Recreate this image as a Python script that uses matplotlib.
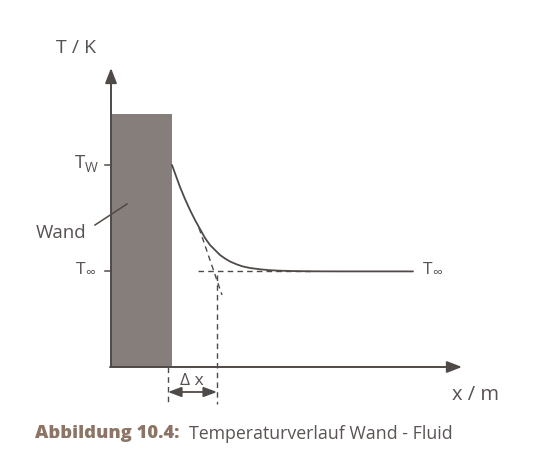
import matplotlib
matplotlib.use("Agg")
import matplotlib.pyplot as plt
from matplotlib.patches import Rectangle

# Diagram coordinates (x to the right, T upward, drawn in figure-sized units)
axis_origin = (111, 367)
y_axis_top = 68
x_axis_end = 462
wall_left, wall_right, wall_top = 111, 172, 114
T_W = 165
T_inf = 271
delta_x_end = 217

# Temperature profile
curve_x = [172, 176, 180, 185, 190, 195, 200, 205, 210, 215, 220, 225, 230, 237,
           243, 250, 260, 270, 280, 295, 310, 340, 380, 413]
curve_T = [165, 176, 187, 199, 210, 220, 229, 238, 245, 250, 255, 258.5, 261.5, 264.5,
           266.5, 268, 269.3, 270.2, 270.7, 271.1, 271.3, 271.4, 271.4, 271.4]

tangent_x = [199, 222]
tangent_T = [228, 295]

line_c = "#4f4a48"
text_c = "#575150"
wall_c = "#857e7b"
cap_c = "#8c7566"

fig = plt.figure(figsize=(5.42, 4.72), dpi=100)
ax = fig.add_axes([0, 0, 1, 1])
ax.set_xlim(0, 542)
ax.set_ylim(472, 0)
ax.axis("off")

fam = ["Open Sans", "DejaVu Sans"]
fw = "normal"

# Wall
ax.add_patch(Rectangle((wall_left, wall_top), wall_right - wall_left,
                       axis_origin[1] - wall_top, facecolor=wall_c, edgecolor="none", zorder=1))

# Axes arrows
ax.annotate("", xy=(axis_origin[0], y_axis_top), xytext=(axis_origin[0], axis_origin[1]),
            arrowprops=dict(arrowstyle="-|>,head_length=0.9,head_width=0.35", color=line_c,
                            lw=1.4, shrinkA=0, shrinkB=0), zorder=3)
ax.annotate("", xy=(x_axis_end, axis_origin[1]), xytext=(axis_origin[0] - 1, axis_origin[1]),
            arrowprops=dict(arrowstyle="-|>,head_length=0.9,head_width=0.35", color=line_c,
                            lw=1.4, shrinkA=0, shrinkB=0), zorder=3)

# Ticks
for yv in (T_W, T_inf):
    ax.plot([axis_origin[0] - 6, axis_origin[0]], [yv, yv], color=line_c, lw=1.1, zorder=3)

# Dashed guides
ax.plot([198, 315], [T_inf, T_inf], color=line_c, lw=1.0, ls=(0, (4, 3)), zorder=2)
ax.plot(tangent_x, tangent_T, color=line_c, lw=1.0, ls=(0, (4, 3)), zorder=2)
ax.plot([delta_x_end, delta_x_end], [T_inf + 4, 404], color=line_c, lw=1.0, ls=(0, (4, 3)), zorder=2)
ax.plot([168, 168], [axis_origin[1], 404], color=line_c, lw=1.0, ls=(0, (4, 3)), zorder=2)

# Curve
ax.plot(curve_x, curve_T, color=line_c, lw=1.3, zorder=4, solid_capstyle="round")

# Delta x arrow
ax.annotate("", xy=(delta_x_end, 392), xytext=(168, 392),
            arrowprops=dict(arrowstyle="<|-|>,head_length=0.8,head_width=0.3", color=line_c,
                            lw=1.3, shrinkA=0, shrinkB=0), zorder=3)
ax.text(192, 381, "Δ x", fontsize=12.5, color=text_c, family=fam, fontweight=fw,
        ha="center", va="center")

# Wand label + leader
ax.plot([95, 127], [225, 204], color=line_c, lw=1.1, zorder=4)
ax.text(61, 233, "Wand", fontsize=13.5, color=text_c, family=fam, fontweight=fw,
        ha="center", va="center")

# Labels
ax.text(76, 48, "T / K", fontsize=14, color=text_c, family=fam, fontweight=fw,
        ha="center", va="center")
ax.text(475, 395, "x / m", fontsize=14.5, color=text_c, family=fam, fontweight=fw,
        ha="center", va="center")

ax.text(85, 163, "T", fontsize=13.5, color=text_c, family=fam, ha="right", va="center")
ax.text(85, 168, "W", fontsize=10, color=text_c, family=fam, ha="left", va="center")
ax.text(85, 270, "T", fontsize=12.5, color=text_c, family=fam, ha="right", va="center")
ax.text(85, 274, "∞", fontsize=10, color=text_c, family=fam, ha="left", va="center")
ax.text(432, 270, "T", fontsize=12.5, color=text_c, family=fam, ha="right", va="center")
ax.text(432, 274, "∞", fontsize=10, color=text_c, family=fam, ha="left", va="center")

# Caption
ax.text(35, 434, "Abbildung 10.4:", fontsize=13.2, color=cap_c, family=fam,
        fontweight="heavy", ha="left", va="center")
ax.text(189, 434, "Temperaturverlauf Wand - Fluid", fontsize=12.8, color="#5a5452",
        family=fam, ha="left", va="center")

fig.savefig("out.png", dpi=100, facecolor="white")
